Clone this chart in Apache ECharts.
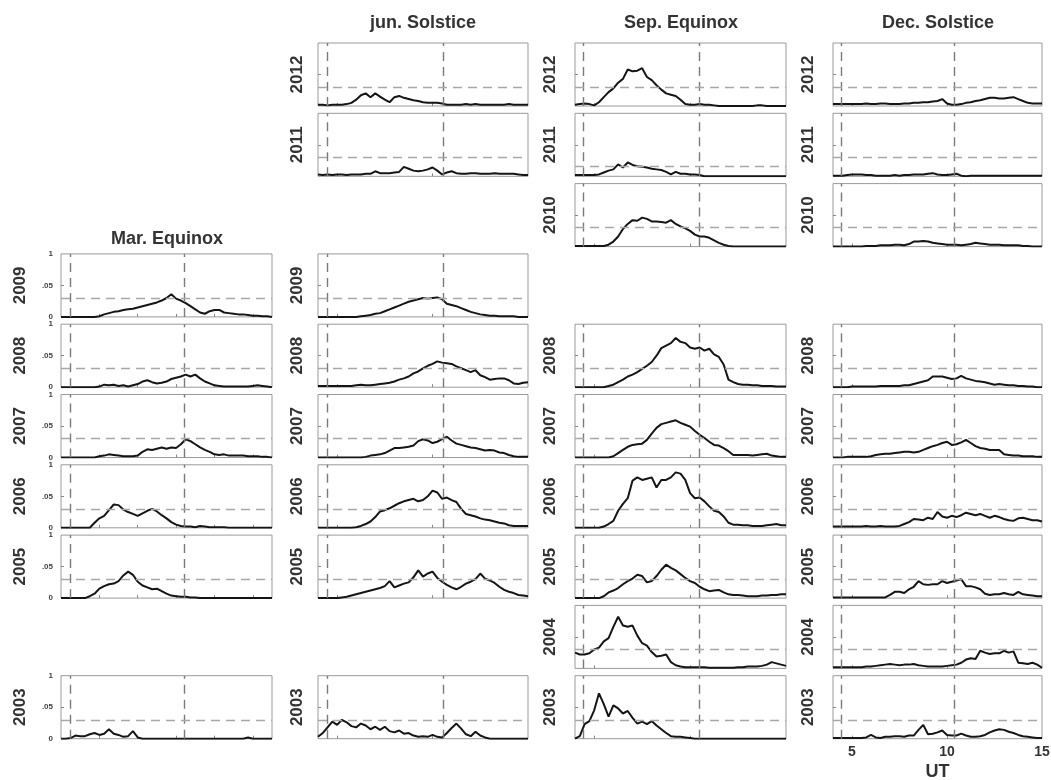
<!DOCTYPE html>
<html><head><meta charset="utf-8">
<script src="https://cdn.jsdelivr.net/npm/echarts@6/dist/echarts.min.js"></script>
<style>html,body{margin:0;padding:0;background:#fff}#c{width:1051px;height:780px}</style>
</head><body><div id="c"></div><script>
// UT sample times (hours)
const ut = [4,4.25,4.5,4.75,5,5.25,5.5,5.75,6,6.25,6.5,6.75,7,7.25,7.5,7.75,8,8.25,8.5,8.75,9,9.25,9.5,9.75,10,10.25,10.5,10.75,11,11.25,11.5,11.75,12,12.25,12.5,12.75,13,13.25,13.5,13.75,14,14.25,14.5,14.75,15];
const seasons = ['Mar. Equinox','jun. Solstice','Sep. Equinox','Dec. Solstice'];
const years = ['2012','2011','2010','2009','2008','2007','2006','2005','2004','2003'];
const yTickValues = [0,50,100];
const yTickLabels = ['0','.05','1'];
const xTickValues = [5,10,15];
const xTickLabels = ['5','10','15'];
const xAxisName = 'UT';
// dashed vertical markers (UT) per season
const terminators = [[4.5,10.45],[4.5,10.55],[4.45,10.5],[4.45,10.4]];

// values in units of 0.001 (axis 0 .. 0.1)
const mar2009 = [0,0,0,0,0,0,0,0,1,4,6,8,9,11,12,13,15,17,19,21,23,26,30,36,29,26,22,17,12,7,5,9,11,11,7,6,5,4,4,3,2,2,1,1,0];
const mar2008 = [0,0,0,0,0,0,0,0,1,4,3,4,2,3,1,3,5,9,11,8,6,7,9,13,15,17,20,17,20,14,9,6,3,2,1,1,1,1,1,1,2,3,2,1,0];
const mar2007 = [0,0,0,0,0,0,0,0,2,3,5,4,3,2,2,2,3,9,13,12,14,16,14,16,15,21,29,26,21,16,12,9,5,4,5,3,3,3,3,2,2,2,1,1,0];
const mar2006 = [0,0,0,0,0,0,0,8,15,19,28,37,36,29,25,22,19,23,27,30,26,20,15,9,5,3,2,2,1,3,2,1,1,1,1,0,0,0,0,0,0,0,0,0,0];
const mar2005 = [0,0,0,0,0,0,3,7,15,19,22,23,27,36,42,37,26,20,17,14,15,11,7,4,3,2,2,1,1,0,0,0,0,0,0,0,0,0,0,0,0,0,0,0,0];
const mar2003 = [0,0,1,5,4,4,7,9,6,8,15,8,6,3,4,12,2,0,0,0,0,0,0,0,0,0,0,0,0,0,0,0,0,0,0,0,0,0,0,2,0,0,0,0,0];

const jun2012 = [2,2,1,2,2,2,3,5,10,17,20,14,20,15,10,6,14,16,13,11,9,8,6,5,5,5,4,2,2,2,2,3,2,3,2,2,2,2,2,2,3,2,2,2,2];
const jun2011 = [3,2,3,2,3,3,2,3,3,3,4,4,8,5,5,5,6,7,15,12,9,8,9,11,14,9,3,6,8,5,4,4,5,5,4,4,4,5,4,4,4,4,3,2,2];
const jun2009 = [0,0,0,0,0,0,0,0,0,1,2,3,5,6,9,12,15,18,21,24,26,28,30,29,30,31,28,21,19,17,14,11,8,6,4,3,2,2,1,1,1,1,0,0,0];
const jun2008 = [2,2,2,2,2,2,2,2,3,4,3,3,4,5,6,7,9,12,14,17,22,25,30,34,37,41,39,38,37,33,30,27,24,27,19,16,12,13,14,14,11,6,5,7,8];
const jun2007 = [0,0,0,0,0,0,0,0,0,0,1,3,4,5,7,11,15,15,16,17,19,26,29,27,23,25,29,33,27,22,20,18,16,15,13,11,12,11,8,7,4,2,1,1,1];
const jun2006 = [0,0,0,0,0,0,0,0,1,3,6,10,17,26,28,31,35,39,42,44,46,42,44,50,59,56,46,48,44,41,30,22,20,18,15,13,12,10,8,7,4,3,3,3,3];
const jun2005 = [0,0,0,0,0,1,2,4,6,8,10,12,14,16,19,27,17,20,23,25,33,44,34,39,42,32,26,21,17,14,18,23,26,30,39,31,28,24,18,13,10,8,5,4,3];
const jun2003 = [3,9,18,27,22,30,26,20,18,24,21,15,19,14,19,12,10,13,8,9,5,3,4,3,6,3,2,9,17,24,16,7,4,11,5,2,0,0,0,0,0,0,0,0,0];

const sep2012 = [2,3,4,3,1,6,14,22,28,37,43,58,55,56,60,46,41,33,26,20,18,16,10,3,2,2,3,2,2,1,0,0,0,0,0,0,0,0,1,1,0,0,0,0,0];
const sep2011 = [2,2,2,2,2,3,6,9,11,19,14,22,18,16,15,14,12,11,10,7,3,7,4,4,3,3,2,0,0,0,0,0,0,0,0,0,0,0,0,0,0,0,0,0,0];
const sep2010 = [1,1,1,1,1,1,1,3,8,16,28,36,42,41,46,44,40,40,39,38,42,36,32,29,25,19,16,16,14,10,6,3,1,0,0,0,0,0,0,0,0,0,0,0,0];
const sep2008 = [0,0,0,0,0,0,0,2,4,8,12,17,20,24,29,34,40,50,62,66,70,78,72,70,63,61,63,58,61,52,48,36,12,8,5,4,4,3,3,2,2,2,1,1,1];
const sep2007 = [0,0,0,0,0,0,0,0,2,7,12,17,20,21,22,28,38,47,53,55,57,59,55,52,49,42,36,31,25,20,19,15,10,4,4,4,4,3,4,5,6,3,2,1,1];
const sep2006 = [0,0,0,0,0,0,2,6,11,27,38,47,75,80,76,78,80,64,76,76,80,88,86,76,55,47,48,42,34,27,25,18,8,5,5,4,4,3,3,3,4,5,6,4,4];
const sep2005 = [0,0,0,0,0,0,3,9,12,16,22,27,31,37,35,25,27,35,45,53,48,44,38,32,27,24,18,14,11,12,13,9,6,5,5,4,3,3,3,4,4,5,5,6,6];
const sep2004 = [25,22,22,24,30,33,43,48,66,82,68,66,68,52,40,36,26,19,20,22,10,5,3,2,2,2,2,2,1,1,1,1,1,1,2,2,3,3,3,4,6,10,8,6,4];
const sep2003 = [0,4,23,28,45,72,55,35,53,48,40,44,33,24,27,23,28,21,15,9,4,3,3,2,1,0,0,0,0,0,0,0,0,0,0,0,0,0,0,0,0,0,0,0,0];

const dec2012 = [3,3,3,3,3,3,3,4,3,3,4,4,3,3,3,4,4,5,5,6,6,7,8,11,4,2,2,3,5,6,8,9,11,13,13,12,12,13,14,11,8,5,4,4,4];
const dec2011 = [1,1,1,2,3,3,3,2,2,1,1,1,1,2,1,2,2,3,3,3,4,5,3,2,2,3,4,1,0,1,1,1,1,1,1,1,1,1,1,1,1,1,1,1,1];
const dec2010 = [0,0,0,0,0,0,0,1,1,1,2,2,2,3,3,2,4,8,8,9,8,6,5,4,3,3,3,2,3,4,6,5,4,3,3,3,2,2,2,2,1,1,0,0,0];
const dec2008 = [0,0,0,0,1,1,1,1,1,1,2,2,2,2,2,3,3,5,7,9,11,17,17,17,15,13,14,18,14,12,10,9,8,6,4,5,4,3,3,2,2,1,1,0,0];
const dec2007 = [0,0,0,1,1,1,1,1,2,4,5,6,6,7,8,9,9,8,9,12,15,18,20,23,25,20,21,24,28,23,18,15,14,12,12,12,5,4,3,3,2,2,2,1,1];
const dec2006 = [2,2,2,2,2,2,2,3,2,2,3,2,2,2,3,6,9,14,13,12,16,14,25,18,16,19,17,20,24,22,20,22,19,16,19,17,14,12,11,15,16,14,12,12,10];
const dec2005 = [1,1,1,1,1,1,1,1,1,1,1,1,5,10,10,8,14,18,27,22,21,22,22,27,24,26,28,30,19,19,17,14,7,5,6,6,8,6,5,10,6,5,4,3,3];
const dec2004 = [2,2,2,2,2,2,2,3,3,4,5,6,7,6,5,6,6,7,5,4,3,3,3,3,4,5,6,9,14,16,15,28,25,23,24,24,28,25,27,9,8,7,9,6,1];
const dec2003 = [1,1,1,1,1,1,1,2,6,2,1,3,3,4,4,3,5,5,14,22,7,8,10,13,6,5,5,8,5,3,3,4,6,10,13,15,14,11,9,6,4,3,2,1,1];

// horizontal dashed reference level per panel
const panels = [
  {c:0, y:'2009', d:mar2009, thr:30},{c:0, y:'2008', d:mar2008, thr:30},{c:0, y:'2007', d:mar2007, thr:30},
  {c:0, y:'2006', d:mar2006, thr:30},{c:0, y:'2005', d:mar2005, thr:30},{c:0, y:'2003', d:mar2003, thr:30},
  {c:1, y:'2012', d:jun2012, thr:30},{c:1, y:'2011', d:jun2011, thr:30},{c:1, y:'2009', d:jun2009, thr:30},
  {c:1, y:'2008', d:jun2008, thr:30},{c:1, y:'2007', d:jun2007, thr:30},{c:1, y:'2006', d:jun2006, thr:30},
  {c:1, y:'2005', d:jun2005, thr:30},{c:1, y:'2003', d:jun2003, thr:30},
  {c:2, y:'2012', d:sep2012, thr:30},{c:2, y:'2011', d:sep2011, thr:16},{c:2, y:'2010', d:sep2010, thr:30},
  {c:2, y:'2008', d:sep2008, thr:30},{c:2, y:'2007', d:sep2007, thr:30},{c:2, y:'2006', d:sep2006, thr:30},
  {c:2, y:'2005', d:sep2005, thr:30},{c:2, y:'2004', d:sep2004, thr:30},{c:2, y:'2003', d:sep2003, thr:30},
  {c:3, y:'2012', d:dec2012, thr:30},{c:3, y:'2011', d:dec2011, thr:30},{c:3, y:'2010', d:dec2010, thr:30},
  {c:3, y:'2008', d:dec2008, thr:30},{c:3, y:'2007', d:dec2007, thr:30},{c:3, y:'2006', d:dec2006, thr:30},
  {c:3, y:'2005', d:dec2005, thr:30},{c:3, y:'2004', d:dec2004, thr:30},{c:3, y:'2003', d:dec2003, thr:30}
];

// layout
const FONT = "'Liberation Sans', Arial, sans-serif";
const colLeft = [61, 318, 575, 833];
const colWidth = [211, 210, 211, 209];
const row0 = 43, rowPitch = 70.3, panelH = 63;
const yearLabelX = [20, 297, 550, 808];
const titlePos = [[167, 239], [423, 23], [681, 23], [938, 23]];
const xTopTicks = [[6,8,10,12,14],[5,10],[5,10],[5,10]];

const grids = [], xAxes = [], yAxes = [], series = [], graphics = [];
panels.forEach((p, i) => {
  const r = years.indexOf(p.y);
  const top = row0 + rowPitch * r;
  const isLastDec = (p.c === 3 && p.y === '2003');
  grids.push({left: colLeft[p.c], top: top, width: colWidth[p.c], height: panelH,
    outerBoundsMode: 'none', containLabel: false,
    show: true, borderColor: '#9a9a9a', borderWidth: 1, backgroundColor: 'transparent'});
  xAxes.push({type: 'value', gridIndex: i, min: 4, max: 15,
    axisLine: {show: false}, splitLine: {show: false},
    axisTick: {show: true, inside: true, length: 3, customValues: xTopTicks[p.c], lineStyle: {color: '#888'}},
    axisLabel: isLastDec ? {show: true, customValues: xTickValues, margin: 6,
        formatter: v => xTickLabels[xTickValues.indexOf(v)],
        fontSize: 14, fontWeight: 'bold', color: '#333', fontFamily: FONT} : {show: false},
    name: isLastDec ? xAxisName : '', nameLocation: 'middle', nameGap: 24,
    nameTextStyle: {fontSize: 18, fontWeight: 'bold', color: '#333', fontFamily: FONT}
  });
  yAxes.push({type: 'value', gridIndex: i, min: 0, max: 100,
    axisLine: {show: false}, splitLine: {show: false},
    axisTick: {show: true, inside: true, length: 3, customValues: [50], lineStyle: {color: '#888'}},
    axisLabel: p.c === 0 ? {show: true, customValues: yTickValues, margin: 8,
        formatter: v => yTickLabels[yTickValues.indexOf(v)],
        fontSize: 8, fontWeight: 'bold', color: '#444', fontFamily: FONT} : {show: false}
  });
  series.push({type: 'line', xAxisIndex: i, yAxisIndex: i, showSymbol: false, silent: true,
    data: ut.map((t, k) => [t, p.d[k]]),
    lineStyle: {color: '#151515', width: 2},
    markLine: {silent: true, symbol: ['none', 'none'], label: {show: false},
      data: [
        {xAxis: terminators[p.c][0], lineStyle: {color: '#7a7a7a', width: 1.4, type: [9, 6]}},
        {xAxis: terminators[p.c][1], lineStyle: {color: '#7a7a7a', width: 1.4, type: [9, 6]}},
        {yAxis: p.thr, lineStyle: {color: '#a8a8a8', width: 1.4, type: [9, 6]}}
      ]}
  });
  graphics.push({type: 'text', x: yearLabelX[p.c], y: top + panelH / 2, rotation: Math.PI / 2,
    style: {text: p.y, fontSize: 17, fontWeight: 'bold', fill: '#333', fontFamily: FONT,
      align: 'center', verticalAlign: 'middle'}});
});
seasons.forEach((s, c) => {
  graphics.push({type: 'text', x: titlePos[c][0], y: titlePos[c][1],
    style: {text: s, fontSize: 18, fontWeight: 'bold', fill: '#333', fontFamily: FONT,
      align: 'center', verticalAlign: 'middle'}});
});

const chart = echarts.init(document.getElementById('c'), null, {renderer: 'canvas'});
chart.setOption({animation: false, backgroundColor: '#fff',
  grid: grids, xAxis: xAxes, yAxis: yAxes, series: series, graphic: graphics});
</script></body></html>
